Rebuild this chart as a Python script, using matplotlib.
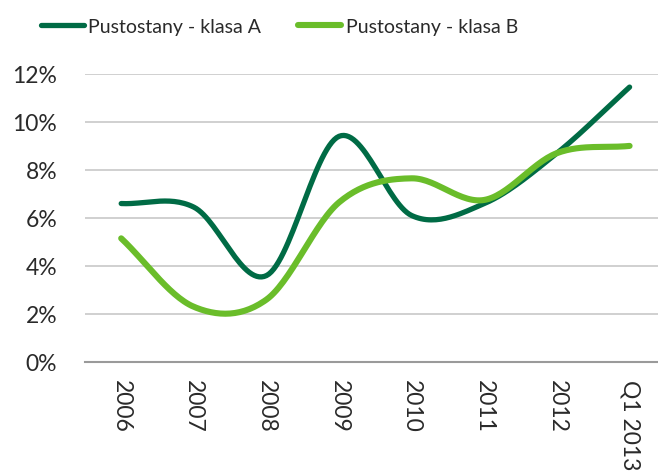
import numpy as np
import matplotlib.pyplot as plt
from matplotlib.ticker import FuncFormatter

categories = ["2006", "2007", "2008", "2009", "2010", "2011", "2012", "Q1 2013"]
klasa_a = [6.6, 6.45, 3.6, 9.4, 6.1, 6.6, 8.7, 11.45]
klasa_b = [5.15, 2.3, 2.6, 6.65, 7.65, 6.75, 8.7, 9.0]

dark_green = "#006B45"
light_green = "#6ABD2A"


def smooth(ys, n=30):
    # catmull-rom through the points, like excel's smoothed line
    y = np.asarray(ys, dtype=float)
    x = np.arange(len(y), dtype=float)
    px = np.concatenate([[2 * x[0] - x[1]], x, [2 * x[-1] - x[-2]]])
    py = np.concatenate([[2 * y[0] - y[1]], y, [2 * y[-1] - y[-2]]])
    xs, out = [], []
    t = np.linspace(0, 1, n, endpoint=False)
    for i in range(1, len(px) - 2):
        for p, acc in ((px, xs), (py, out)):
            p0, p1, p2, p3 = p[i - 1], p[i], p[i + 1], p[i + 2]
            acc.extend(0.5 * (2 * p1 + (-p0 + p2) * t
                              + (2 * p0 - 5 * p1 + 4 * p2 - p3) * t ** 2
                              + (-p0 + 3 * p1 - 3 * p2 + p3) * t ** 3))
    xs.append(x[-1])
    out.append(y[-1])
    return np.array(xs), np.array(out)


plt.rcParams['font.family'] = ['Lato', 'DejaVu Sans']

fig = plt.figure(figsize=(6.58, 4.77), dpi=100)
ax = fig.add_axes([0.129, 0.239, 0.883, 0.604])

xa, ya = smooth(klasa_a)
xb, yb = smooth(klasa_b)
ax.plot(xa, ya, color=dark_green, lw=3.8, solid_capstyle='round', label="Pustostany - klasa A", zorder=3)
ax.plot(xb, yb, color=light_green, lw=4.4, solid_capstyle='round', label="Pustostany - klasa B", zorder=4)

ax.set_xlim(-0.5, len(categories) - 0.5)
ax.set_ylim(0, 12)
ax.set_yticks(np.arange(0, 13, 2))
ax.yaxis.set_major_formatter(FuncFormatter(lambda v, _: f"{v:.0f}%"))
ax.set_xticks(range(len(categories)))
ax.set_xticklabels(categories, rotation=270, va='top', ha='center')

ax.grid(axis='y', color='#c8c8c8', lw=1.2)
ax.set_axisbelow(True)
for s in ['top', 'right', 'left']:
    ax.spines[s].set_visible(False)
ax.spines['bottom'].set_color('#9a9a9a')
ax.spines['bottom'].set_linewidth(1.5)
ax.tick_params(axis='both', length=0, labelsize=16.5, colors='#2a2a2a')
ax.tick_params(axis='y', pad=20)
ax.tick_params(axis='x', pad=12)

leg = ax.legend(loc='lower center', bbox_to_anchor=(0.335, 1.075), ncol=2, frameon=False,
                fontsize=14, handlelength=2.2, handletextpad=0.25, columnspacing=1.9)
for txt in leg.get_texts():
    txt.set_color('#2a2a2a')

fig.savefig("out.png", dpi=100)
